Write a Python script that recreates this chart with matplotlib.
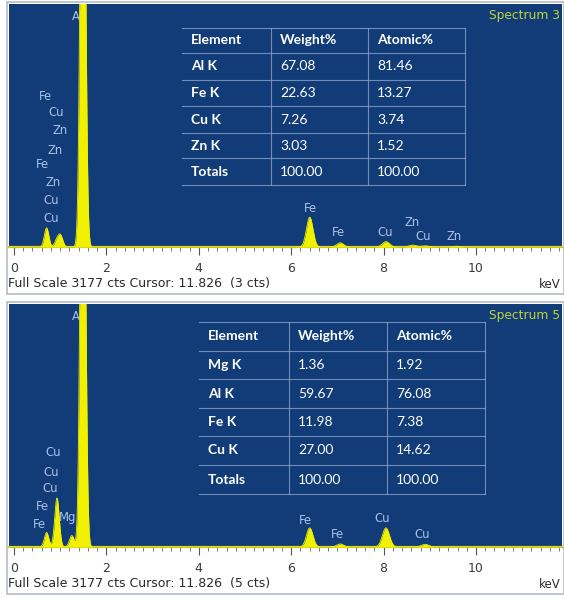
import numpy as np
import matplotlib
matplotlib.use("Agg")
import matplotlib.pyplot as plt
from matplotlib.patches import Rectangle
from matplotlib.lines import Line2D

# ---------------- data ----------------
full_scale = 3177  # cts

# Spectrum 3: emission lines (keV) and peak counts
s3_line_kev = [0.705, 0.93, 1.01, 1.49, 6.40, 7.06, 8.05, 8.63, 8.90, 9.57]
s3_counts = [250, 90, 140, 8000, 390, 55, 70, 25, 15, 10]

# Spectrum 5: emission lines (keV) and peak counts
s5_line_kev = [0.705, 0.93, 1.25, 1.49, 6.40, 7.06, 8.05, 8.90]
s5_counts = [190, 640, 150, 8000, 250, 40, 250, 35]

# Quantification tables
s3_elements = ["Al K", "Fe K", "Cu K", "Zn K", "Totals"]
s3_weight = ["67.08", "22.63", "7.26", "3.03", "100.00"]
s3_atomic = ["81.46", "13.27", "3.74", "1.52", "100.00"]

s5_elements = ["Mg K", "Al K", "Fe K", "Cu K", "Totals"]
s5_weight = ["1.36", "59.67", "11.98", "27.00", "100.00"]
s5_atomic = ["1.92", "76.08", "7.38", "14.62", "100.00"]

table_header = ["Element", "Weight%", "Atomic%"]

# Peak label text
s3_peak_text = ["Al", "Fe", "Cu", "Zn", "Zn", "Fe", "Zn", "Cu", "Cu",
                "Fe", "Fe", "Cu", "Zn", "Cu", "Zn"]
s5_peak_text = ["Al", "Cu", "Cu", "Cu", "Fe", "Fe", "Mg",
                "Fe", "Fe", "Cu", "Cu"]

# ---------------- layout / style ----------------
W, H = 564, 599
NAVY = "#113c78"
YELLOW = "#f0f000"
LABEL_C = "#a9c1e6"
GRID_C = "#8aa2c8"
X0_PX, KEV_PX = 14.0, 46.2          # pixel of 0 keV, pixels per keV
AX_LEFT, AX_RIGHT = 9, 562
PANEL_H = 243
XMIN = (AX_LEFT - X0_PX) / KEV_PX
XMAX = (AX_RIGHT - X0_PX) / KEV_PX

# label anchor points in pixels, measured from 4 px above each panel's plot area
s3_text_px = [(78, 16), (45, 97), (56, 113), (60, 130), (55, 150), (42, 165),
              (53, 182), (51, 200), (51, 218),
              (310, 208), (338, 233), (385, 232), (412, 223), (423, 237), (454, 237)]
s5_text_px = [(78, 17), (53, 153), (51, 172), (50, 189), (42, 207), (39, 225), (68, 217),
              (305, 220), (337, 235), (382, 218), (422, 234)]

SANS = "DejaVu Sans"

fig = plt.figure(figsize=(W / 100, H / 100), dpi=100)
fig.patch.set_facecolor("white")

energy = np.linspace(XMIN, XMAX, 3000)


def spectrum(lines, counts):
    lines = np.asarray(lines)[:, None]
    counts = np.asarray(counts)[:, None]
    sigma = 0.045 + 0.004 * lines   # detector resolution broadening
    return (counts * np.exp(-0.5 * ((energy - lines) / sigma) ** 2)).sum(axis=0)


def fx(px):
    return px / W


def fy(py):
    return 1 - py / H


overlay = fig.add_axes([0, 0, 1, 1], zorder=10)
overlay.set_xlim(0, W)
overlay.set_ylim(H, 0)
overlay.axis("off")
overlay.patch.set_alpha(0)


def draw_panel(top_px, lines, counts, peak_text, text_px, title, footer,
               elements, weight, atomic, tbl_x, tbl_y):
    bottom_px = top_px + PANEL_H
    ax = fig.add_axes([fx(AX_LEFT), fy(bottom_px), (AX_RIGHT - AX_LEFT) / W, PANEL_H / H])
    ax.set_facecolor(NAVY)
    ax.set_xlim(XMIN, XMAX)
    ax.set_ylim(0, full_scale)
    y = np.minimum(spectrum(lines, counts), full_scale * 1.02)
    ax.fill_between(energy, 0, y, color=YELLOW, lw=0, zorder=3)
    ax.plot(energy, y, color=YELLOW, lw=0.6, zorder=3)
    for t, (px, py) in zip(peak_text, text_px):
        ax.text((px - X0_PX) / KEV_PX, (PANEL_H + 4 - py) / PANEL_H, t,
                transform=ax.get_xaxis_transform(), color=LABEL_C,
                fontsize=8.4, family=SANS, ha="center", va="center",
                zorder=2)
    for s in ["top", "left", "right"]:
        ax.spines[s].set_visible(False)
    ax.spines["bottom"].set_color("#c8c820")
    ax.spines["bottom"].set_linewidth(1.6)
    ax.set_yticks([])
    ax.set_xticks(np.arange(0, 12, 2))
    ax.set_xticks(np.arange(0, 11.81, 0.2), minor=True)
    ax.tick_params(axis="x", which="major", length=6, width=0.8, color="#555555",
                   direction="out", pad=5, labelsize=9, labelcolor="#3a3a3a")
    ax.tick_params(axis="x", which="minor", length=3, width=0.7, color="#777777",
                   direction="out")
    for lab in ax.get_xticklabels():
        lab.set_family(SANS)

    ax.text(0.997, (PANEL_H - 11) / PANEL_H, title, transform=ax.transAxes,
            color="#bcd43c", fontsize=8.8, family=SANS,
            ha="right", va="center", zorder=5)

    # frame around panel and its footer strip
    overlay.add_patch(Rectangle((6.5, top_px - 2.5), 557, 292, fill=False,
                                ec="#b4bccb", lw=1.2))
    overlay.text(8, bottom_px + 37, footer, fontsize=9, family=SANS,
                 color="#2a2a2a", ha="left", va="center")
    overlay.text(561, bottom_px + 38, "keV", fontsize=8.5, family=SANS,
                 color="#2a2a2a", ha="right", va="center")

    # quantification table
    col_x = tbl_x
    rows = [table_header] + [list(r) for r in zip(elements, weight, atomic)]
    for yv in tbl_y:
        overlay.add_line(Line2D([col_x[0], col_x[-1]], [yv, yv],
                                color=GRID_C, lw=0.8, alpha=0.8))
    for xv in col_x[1:]:
        overlay.add_line(Line2D([xv, xv], [tbl_y[0], tbl_y[-1]],
                                color=GRID_C, lw=0.8, alpha=0.8))
    for r, row in enumerate(rows):
        yc = (tbl_y[r] + tbl_y[r + 1]) / 2
        for c, txt in enumerate(row):
            bold = (r == 0) or (c == 0)
            overlay.text(col_x[c] + 9, yc, txt, color="white",
                         fontsize=10, family="Lato",
                         fontweight="bold" if bold else "normal",
                         ha="left", va="center")
    return ax


draw_panel(4, s3_line_kev, s3_counts, s3_peak_text, s3_text_px, "Spectrum 3",
           "Full Scale 3177 cts Cursor: 11.826  (3 cts)",
           s3_elements, s3_weight, s3_atomic,
           [182, 271, 368, 465], [28, 53, 80, 106, 133, 158, 185])

draw_panel(304, s5_line_kev, s5_counts, s5_peak_text, s5_text_px, "Spectrum 5",
           "Full Scale 3177 cts Cursor: 11.826  (5 cts)",
           s5_elements, s5_weight, s5_atomic,
           [199, 289, 387, 485], [322, 351, 379, 408, 436, 465, 494])

fig.savefig("out.png", dpi=100)
